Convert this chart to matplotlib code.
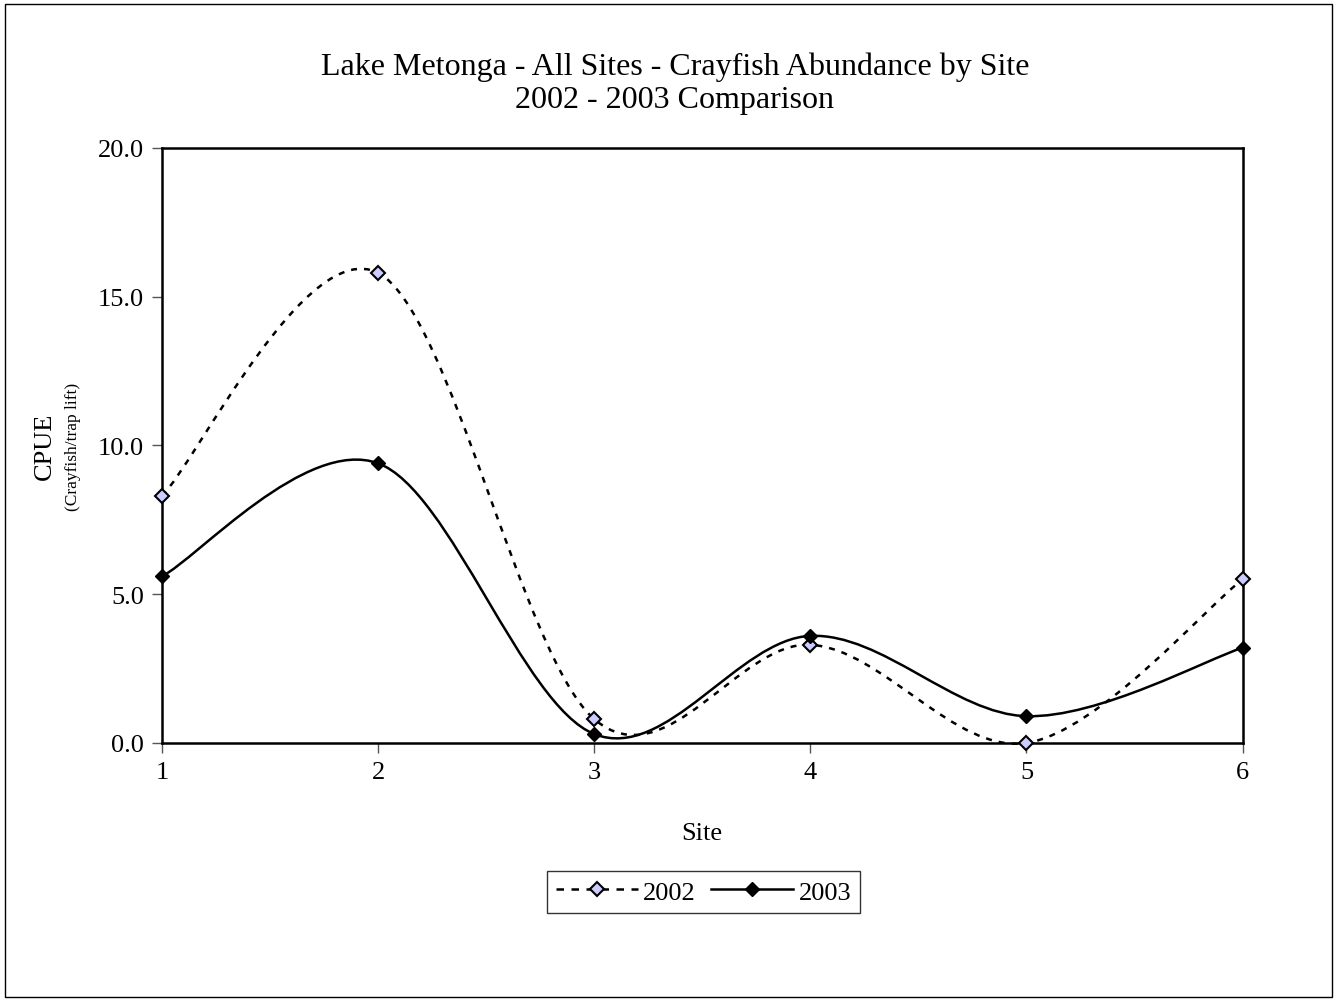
import numpy as np
import matplotlib.pyplot as plt
from matplotlib.path import Path
from matplotlib.patches import PathPatch, Rectangle
from matplotlib.lines import Line2D

plt.rcParams["font.family"] = ["Liberation Serif", "DejaVu Serif"]

sites = [1, 2, 3, 4, 5, 6]
cpue_2002 = [8.3, 15.8, 0.8, 3.3, 0.0, 5.5]
cpue_2003 = [5.6, 9.4, 0.3, 3.6, 0.9, 3.2]
yticks = [0.0, 5.0, 10.0, 15.0, 20.0]


def smooth_path(xs, ys):
    """Excel-like smoothed line: Catmull-Rom segments as cubic Beziers."""
    p = np.column_stack([xs, ys]).astype(float)
    ext = np.vstack([p[0], p, p[-1]])
    verts = [p[0]]
    codes = [Path.MOVETO]
    for i in range(len(p) - 1):
        p0, p1, p2, p3 = ext[i], ext[i + 1], ext[i + 2], ext[i + 3]
        c1 = p1 + (p2 - p0) / 6.0
        c2 = p2 - (p3 - p1) / 6.0
        verts += [c1, c2, p2]
        codes += [Path.CURVE4] * 3
    return Path(verts, codes)


fig = plt.figure(figsize=(13.39, 10.04), dpi=100)
ax = fig.add_axes([0.121, 0.259, 0.807, 0.5926])

fig.patches.append(Rectangle((0.004, 0.006), 0.991, 0.989, transform=fig.transFigure,
                             fill=False, edgecolor="black", linewidth=1))

ax.add_patch(PathPatch(smooth_path(sites, cpue_2002), fill=False, edgecolor="black",
                       linewidth=1.8, linestyle=(0, (2.4, 2.8)), clip_on=False, zorder=3))
ax.add_patch(PathPatch(smooth_path(sites, cpue_2003), fill=False, edgecolor="black",
                       linewidth=1.8, clip_on=False, zorder=3))
ax.plot(sites, cpue_2002, linestyle="none", marker="D", markersize=7,
        markerfacecolor="#ccccff", markeredgecolor="black", markeredgewidth=1.5,
        clip_on=False, zorder=4)
ax.plot(sites, cpue_2003, linestyle="none", marker="D", markersize=7,
        markerfacecolor="black", markeredgecolor="black", clip_on=False, zorder=4)

ax.set_xlim(1, 6)
ax.set_ylim(0, 20)
ax.set_xticks(sites)
ax.set_yticks(yticks)
ax.set_yticklabels([f"{v:.1f}" for v in yticks])
ax.tick_params(axis="both", direction="out", length=7, width=1, labelsize=19, pad=6,
               color="#555555")
for side in ["left", "right", "top", "bottom"]:
    ax.spines[side].set_linewidth(1.8)

ax.set_xlabel("Site", fontsize=19, labelpad=28)
ax.text(-0.108, 0.5, "CPUE", transform=ax.transAxes, rotation=90, fontsize=19,
        ha="center", va="center")
ax.text(-0.082, 0.5, "(Crayfish/trap lift)", transform=ax.transAxes, rotation=90,
        fontsize=12.5, ha="center", va="center")

fig.text(0.504, 0.9253, "Lake Metonga - All Sites - Crayfish Abundance by Site",
         fontsize=23, ha="center", va="baseline")
fig.text(0.504, 0.8924, "2002 - 2003 Comparison", fontsize=23, ha="center",
         va="baseline")

handles = [
    Line2D([], [], color="black", linewidth=1.8, linestyle=(0, (3, 3)), marker="D",
           markersize=7, markerfacecolor="#ccccff", markeredgecolor="black",
           markeredgewidth=1.5),
    Line2D([], [], color="black", linewidth=1.8, marker="D", markersize=7,
           markerfacecolor="black", markeredgecolor="black"),
]
leg = fig.legend(handles, ["2002", "2003"], loc="center", bbox_to_anchor=(0.5254, 0.1106),
                 ncol=2, frameon=True, fancybox=False, fontsize=19, handlelength=3.1,
                 handletextpad=0.2, columnspacing=0.6, borderpad=0.35, numpoints=1)
leg.get_frame().set_edgecolor("black")
leg.get_frame().set_linewidth(1)

fig.savefig("out.png", dpi=100)
